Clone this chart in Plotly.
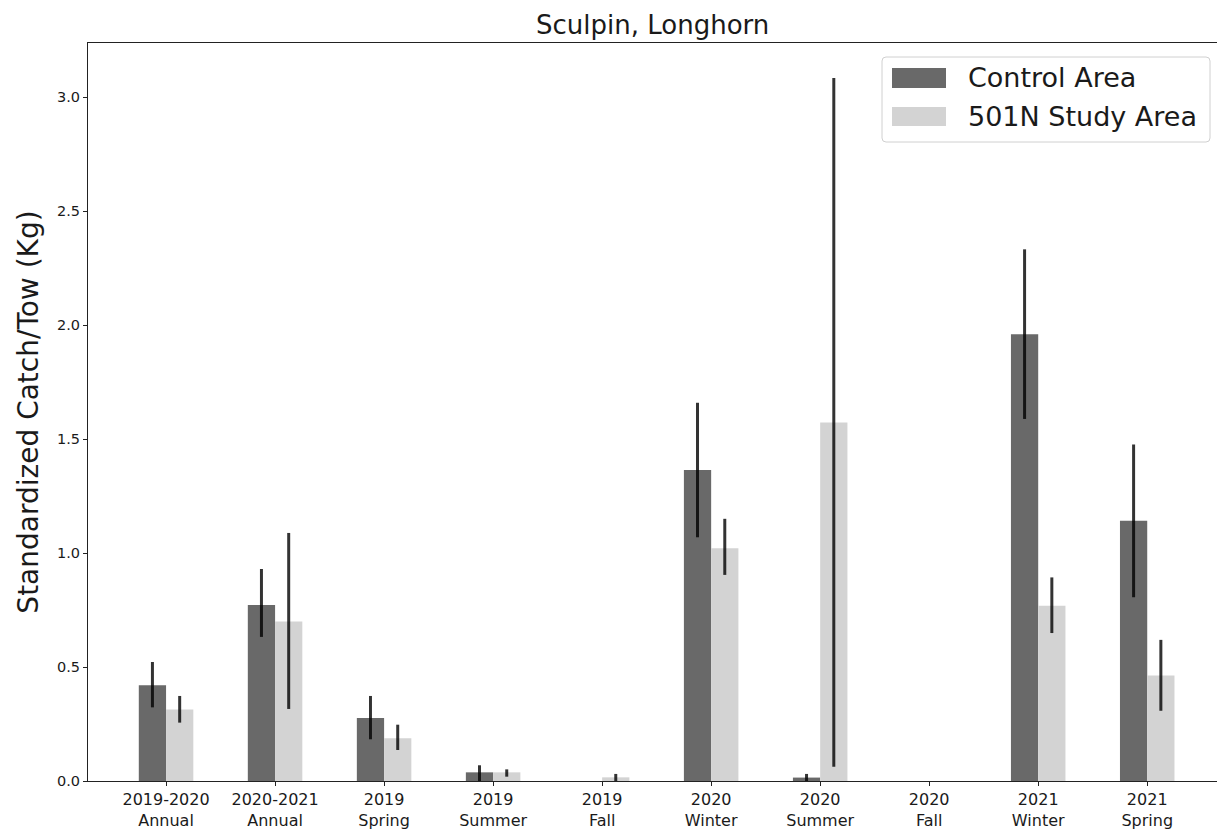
import plotly.graph_objects as go

categories = ["2019-2020<br>Annual", "2020-2021<br>Annual", "2019<br>Spring", "2019<br>Summer",
              "2019<br>Fall", "2020<br>Winter", "2020<br>Summer", "2020<br>Fall",
              "2021<br>Winter", "2021<br>Spring"]

series_names = ["Control Area", "501N Study Area"]

control_vals = [0.42, 0.772, 0.276, 0.038, 0.0, 1.364, 0.015, 0.0, 1.959, 1.141]
control_err_plus = [0.102, 0.158, 0.097, 0.031, 0.0, 0.295, 0.016, 0.0, 0.373, 0.335]
control_err_minus = [0.097, 0.14, 0.093, 0.038, 0.0, 0.295, 0.015, 0.0, 0.371, 0.335]

study_vals = [0.314, 0.70, 0.187, 0.038, 0.016, 1.021, 1.572, 0.0, 0.769, 0.463]
study_err_plus = [0.059, 0.388, 0.06, 0.013, 0.015, 0.129, 1.511, 0.0, 0.124, 0.156]
study_err_minus = [0.058, 0.384, 0.051, 0.019, 0.016, 0.117, 1.509, 0.0, 0.12, 0.155]

colors = ["#696969", "#d3d3d3"]

font = "DejaVu Sans"
txt = "#1a1a1a"
err_color = "rgba(0,0,0,0.8)"

# page offset from the browser's default body margin
OFF = 8
W, H = 1225 - OFF, 832 - OFF
L, R, T, B = 88 - OFF, 8, 43 - OFF, 51
PW, PH = W - L - R, H - T - B


def px(xp):
    """page pixel x -> paper x"""
    return (xp - OFF - L) / PW


def py(yp):
    """page pixel y -> paper y"""
    return (H - B - (yp - OFF)) / PH


fig = go.Figure()
fig.add_trace(go.Bar(
    x=categories, y=control_vals, name=series_names[0],
    marker=dict(color=colors[0], line=dict(width=0)),
    error_y=dict(type="data", symmetric=False, array=control_err_plus,
                 arrayminus=control_err_minus, color=err_color, thickness=3, width=0),
))
fig.add_trace(go.Bar(
    x=categories, y=study_vals, name=series_names[1],
    marker=dict(color=colors[1], line=dict(width=0)),
    error_y=dict(type="data", symmetric=False, array=study_err_plus,
                 arrayminus=study_err_minus, color=err_color, thickness=3, width=0),
))

# Legend drawn to mimic matplotlib's legend box
shapes = []
annotations = []
bx0, bx1, by0, by1 = 882, 1210, 57, 142
r = 4
path = (f"M {px(bx0 + r)},{py(by0)} L {px(bx1 - r)},{py(by0)} "
        f"Q {px(bx1)},{py(by0)} {px(bx1)},{py(by0 + r)} "
        f"L {px(bx1)},{py(by1 - r)} Q {px(bx1)},{py(by1)} {px(bx1 - r)},{py(by1)} "
        f"L {px(bx0 + r)},{py(by1)} Q {px(bx0)},{py(by1)} {px(bx0)},{py(by1 - r)} "
        f"L {px(bx0)},{py(by0 + r)} Q {px(bx0)},{py(by0)} {px(bx0 + r)},{py(by0)} Z")
shapes.append(dict(type="path", xref="paper", yref="paper", path=path,
                   fillcolor="rgba(255,255,255,0.8)", line=dict(color="#d0d0d0", width=1)))
rows = [(68, 88), (107, 126)]
for (y0, y1), name, c in zip(rows, series_names, colors):
    shapes.append(dict(type="rect", xref="paper", yref="paper",
                       x0=px(892), x1=px(946), y0=py(y1), y1=py(y0),
                       fillcolor=c, line=dict(width=0)))
    annotations.append(dict(text=name, xref="paper", yref="paper",
                            x=px(966), y=py((y0 + y1) / 2), xanchor="left", yanchor="middle",
                            showarrow=False, font=dict(size=27, family=font, color=txt)))

# Title
annotations.append(dict(text="Sculpin, Longhorn", xref="paper", yref="paper",
                        x=0.5, y=py(OFF), xanchor="center", yanchor="top",
                        showarrow=False, font=dict(size=26, family=font, color=txt)))

fig.update_layout(
    width=W, height=H,
    margin=dict(l=L, r=R, t=T, b=B),
    paper_bgcolor="white", plot_bgcolor="white",
    barmode="group", bargap=0.5, bargroupgap=0,
    font=dict(family=font, color=txt),
    showlegend=False,
    shapes=shapes,
    annotations=annotations,
)
fig.update_xaxes(
    type="category", range=[-0.716, 9.64], automargin=False,
    showline=True, linecolor="#222", linewidth=1, mirror=True,
    ticks="outside", ticklen=4, tickcolor="#222",
    tickfont=dict(size=16, family=font, color=txt),
    showgrid=False, zeroline=False,
)
fig.update_yaxes(
    range=[0, 3.237], tickvals=[0, 0.5, 1.0, 1.5, 2.0, 2.5, 3.0],
    ticktext=["0.0", "0.5", "1.0", "1.5", "2.0", "2.5", "3.0"], automargin=False,
    showline=True, linecolor="#222", linewidth=1, mirror=True,
    ticks="outside", ticklen=4, tickcolor="#222",
    tickfont=dict(size=14.5, family=font, color=txt),
    title=dict(text="Standardized Catch/Tow (Kg)", font=dict(size=28, family=font, color=txt), standoff=10),
    showgrid=False, zeroline=False,
)

fig.write_html("out.html")
